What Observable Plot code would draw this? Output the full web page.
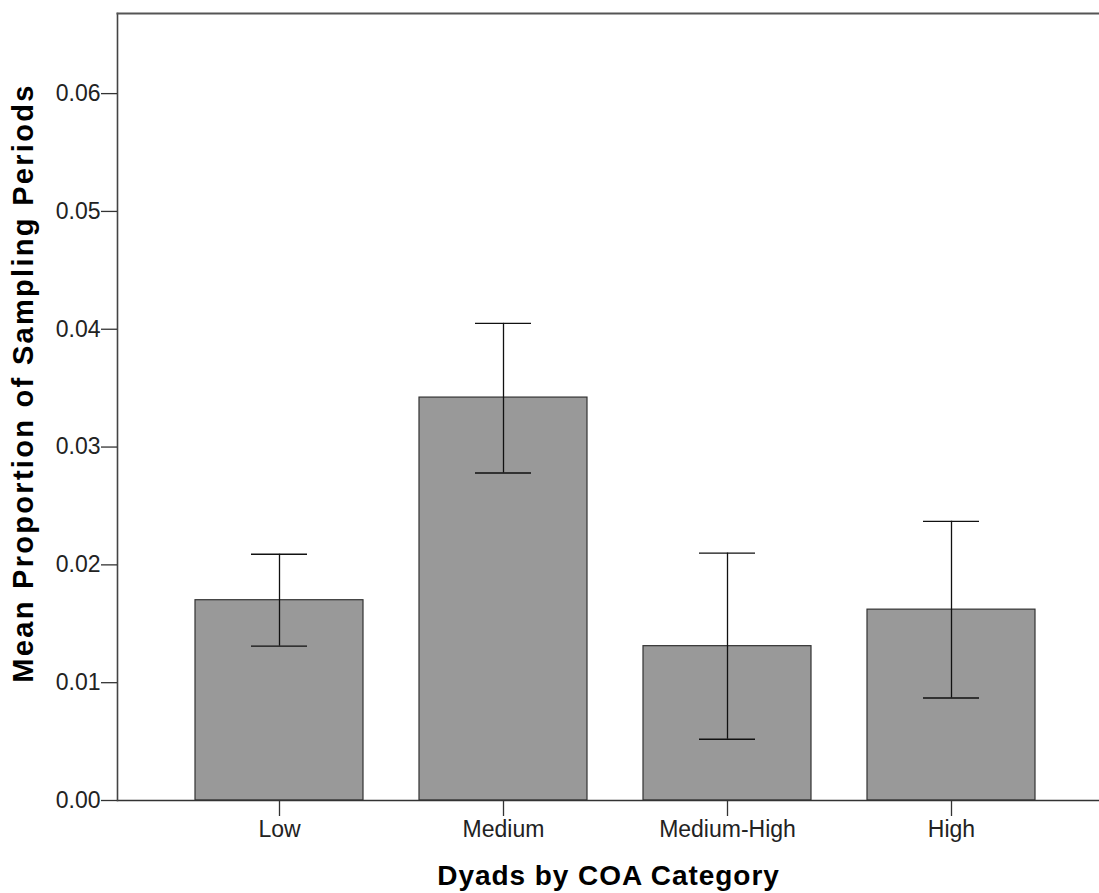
<!DOCTYPE html>
<html>
<head>
<meta charset="utf-8">
<script src="https://cdn.jsdelivr.net/npm/d3@7"></script>
<script src="https://cdn.jsdelivr.net/npm/@observablehq/plot@0.6"></script>
<style>
  html, body { margin: 0; padding: 0; background: #fff; }
  #chart svg { display: block; }
</style>
</head>
<body>
<div id="chart"></div>
<script>
const categories = ["Low", "Medium", "Medium-High", "High"];
const means = [0.0170, 0.0342, 0.0131, 0.0162];
const lower = [0.0131, 0.0278, 0.0052, 0.0087];
const upper = [0.0209, 0.0405, 0.0210, 0.0237];
const yTicks = [0, 0.01, 0.02, 0.03, 0.04, 0.05, 0.06];
const yMax = 0.0668;
const xTitle = "Dyads by COA Category";
const yTitle = "Mean Proportion of Sampling Periods";

const data = categories.map((c, i) => ({cat: c, mean: means[i], lo: lower[i], hi: upper[i]}));

const font = "'Liberation Sans', Arial, sans-serif";

const chart = Plot.plot({
  width: 1099,
  height: 893,
  marginTop: 13,
  marginBottom: 93,
  marginLeft: 117,
  marginRight: 0,
  style: {fontFamily: font, background: "#fff"},
  x: {domain: categories, range: [166.5, 1062.5], padding: 0},
  y: {domain: [0, yMax]},
  marks: [
    Plot.barY(data, {x: "cat", y: "mean", fill: "#999999", stroke: "#333", strokeWidth: 1.2, insetLeft: 28, insetRight: 28}),
    Plot.ruleX(data, {x: "cat", y1: "lo", y2: "hi", stroke: "#111", strokeWidth: 1.3}),
    Plot.tickY(data, {x: "cat", y: "lo", stroke: "#111", strokeWidth: 1.3, insetLeft: 84, insetRight: 84}),
    Plot.tickY(data, {x: "cat", y: "hi", stroke: "#111", strokeWidth: 1.3, insetLeft: 84, insetRight: 84}),
    Plot.frame({anchor: "bottom", stroke: "#333", strokeWidth: 1.3}),
    Plot.frame({anchor: "left", stroke: "#444", strokeWidth: 1.6}),
    Plot.frame({anchor: "top", stroke: "#555", strokeWidth: 2}),
    Plot.axisY({ticks: yTicks, tickFormat: d3.format(".2f"), tickSize: 16, tickPadding: 1, fontSize: 23, stroke: "#333", strokeWidth: 1.3, color: "#222", label: null}),
    Plot.axisX({tickSize: 16, tickPadding: 4, fontSize: 23, stroke: "#333", strokeWidth: 1.3, color: "#222", label: null}),
    Plot.text([xTitle], {frameAnchor: "bottom", dy: 76, text: d => d, fontSize: 28, fontWeight: "bold", fill: "#000", lineAnchor: "middle", textAnchor: "middle"}),
    Plot.text([yTitle], {frameAnchor: "left", dx: -94, dy: -24, rotate: -90, text: d => d, fontSize: 29, fontWeight: "bold", fill: "#000", lineAnchor: "middle", textAnchor: "middle"})
  ]
});
d3.select(chart).selectAll("text").each(function() {
  const t = this.textContent;
  if (t === xTitle) this.setAttribute("letter-spacing", "0.95");
  if (t === yTitle) this.setAttribute("letter-spacing", "2.3");
});
document.getElementById("chart").appendChild(chart);
</script>
</body>
</html>
